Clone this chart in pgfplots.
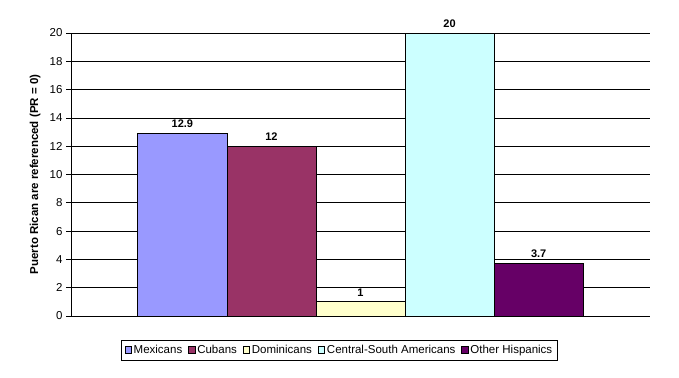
\documentclass[border=0pt]{standalone}
\usepackage{fontspec}
\setmainfont{Liberation Sans}
\usepackage{pgfplots}
\pgfplotsset{compat=1.18}
\definecolor{cmex}{HTML}{9999FF}
\definecolor{ccub}{HTML}{993366}
\definecolor{cdom}{HTML}{FFFFCC}
\definecolor{ccsa}{HTML}{CCFFFF}
\definecolor{coth}{HTML}{660066}
\begin{document}
\begin{tikzpicture}[x=1pt,y=1pt]
\path[use as bounding box] (0,0) rectangle (679,377);
\begin{axis}[
  at={(71pt,61pt)}, anchor=south west,
  width=579pt, height=283pt, scale only axis,
  xmin=0, xmax=6.5, ymin=0, ymax=20,
  ytick={0,2,...,20}, xtick=\empty,
  axis x line*=bottom, axis y line*=left,
  axis line style={black, line width=0.7pt},
  ymajorgrids, grid style={black, line width=0.7pt},
  tick align=outside, major tick length=5pt, tick style={black, line width=0.7pt},
  /pgf/number format/assume math mode=true,
  ticklabel style={font=\fontsize{11.5}{13}\selectfont},
  ylabel={\bfseries Puerto Rican are referenced (PR = 0)},
  ylabel style={font=\fontsize{11.5}{13}\selectfont, at={(axis description cs:-0.062,0.5)}, anchor=center},
  ybar, bar width=1, bar shift=0pt,
  nodes near coords,
  every node near coord/.append style={font=\bfseries\fontsize{11}{13}\selectfont, black, yshift=2pt},
  legend columns=5,
  legend style={at={(rel axis cs:0.4637,-0.12)}, anchor=center, draw=black, line width=0.7pt,
    font=\fontsize{11.5}{13}\selectfont, inner sep=3pt,
    /tikz/every even column/.append style={column sep=4pt}},
  legend image code/.code={\draw[#1, line width=0.5pt] (0pt,-3pt) rectangle (6.5pt,3.5pt);},
]
\addplot[fill=cmex, draw=black, line width=0.7pt] coordinates {(1.25,12.9)};
\addplot[fill=ccub, draw=black, line width=0.7pt] coordinates {(2.25,12)};
\addplot[fill=cdom, draw=black, line width=0.7pt] coordinates {(3.25,1)};
\addplot[fill=ccsa, draw=black, line width=0.7pt] coordinates {(4.25,20)};
\addplot[fill=coth, draw=black, line width=0.7pt] coordinates {(5.25,3.7)};
\legend{Mexicans, Cubans, Dominicans, Central-South Americans, Other Hispanics}
\end{axis}
\end{tikzpicture}
\end{document}
